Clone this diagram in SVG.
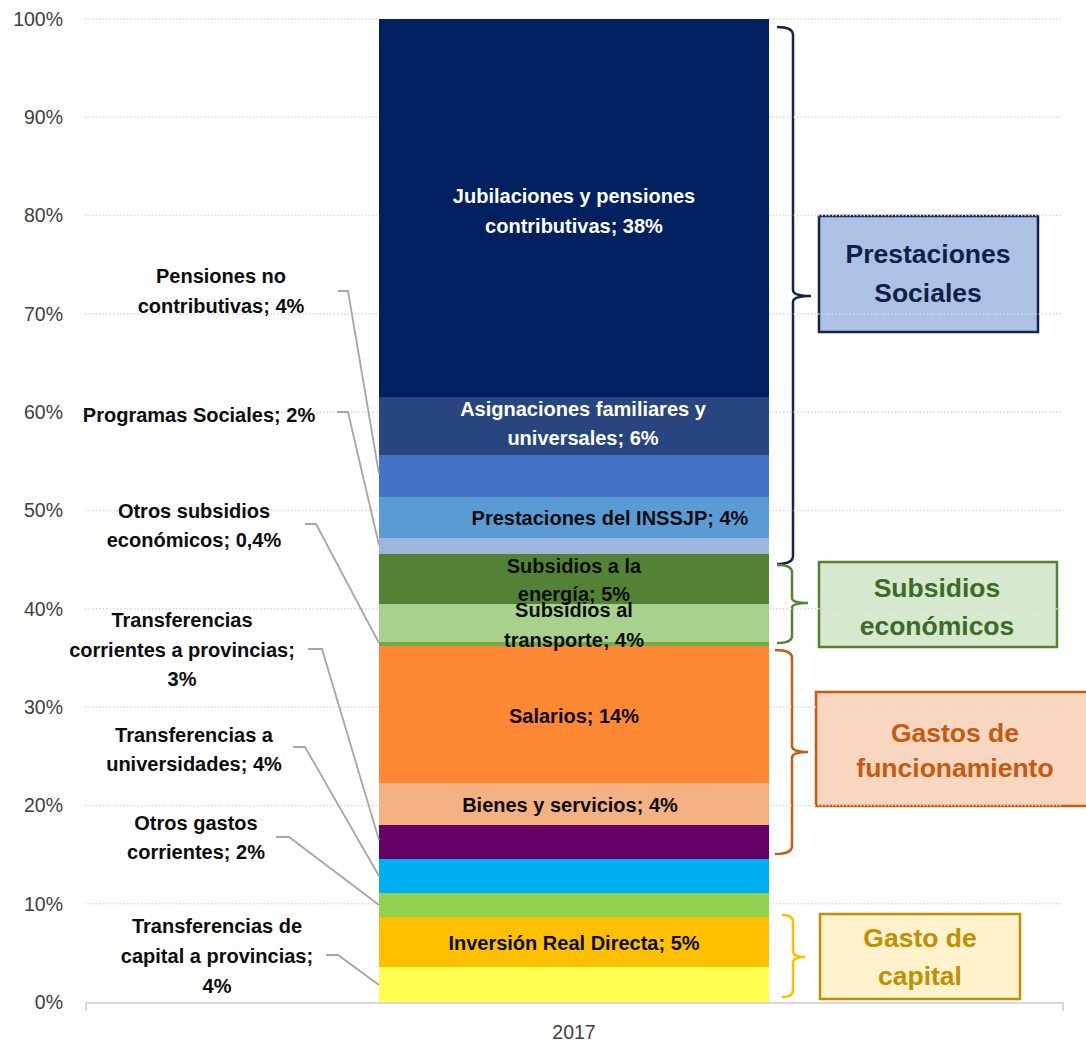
<svg xmlns="http://www.w3.org/2000/svg" width="1086" height="1046" viewBox="0 0 1086 1046">
<style>
.ax{font-family:"Liberation Sans",Arial,sans-serif;font-size:19.5px;fill:#404040}
.lb{font-family:"Liberation Sans",Arial,sans-serif;font-size:20px;font-weight:bold;fill:#0D0D0D;text-anchor:middle}
.wh{fill:#FFFFFF}
.grid{stroke:#D9D9D9;stroke-width:1.5;stroke-dasharray:1.5 2;fill:none}
.lead{stroke:#A6A6A6;stroke-width:1.8;fill:none}
.brace{fill:none;stroke-width:2.5}
.bt{font-family:"Liberation Sans",Arial,sans-serif;font-size:26.5px;font-weight:bold;text-anchor:middle}
</style>
<rect width="1086" height="1046" fill="#FFFFFF"/>
<g id="gridlines-left">
<line class="grid" x1="85" y1="903.7" x2="379" y2="903.7"/>
<line class="grid" x1="85" y1="805.4" x2="379" y2="805.4"/>
<line class="grid" x1="85" y1="707.1" x2="379" y2="707.1"/>
<line class="grid" x1="85" y1="608.8" x2="379" y2="608.8"/>
<line class="grid" x1="85" y1="510.5" x2="379" y2="510.5"/>
<line class="grid" x1="85" y1="412.2" x2="379" y2="412.2"/>
<line class="grid" x1="85" y1="313.9" x2="379" y2="313.9"/>
<line class="grid" x1="85" y1="215.6" x2="379" y2="215.6"/>
<line class="grid" x1="85" y1="117.3" x2="379" y2="117.3"/>
<line class="grid" x1="85" y1="19" x2="379" y2="19"/>
</g>
<g id="y-axis">
<text class="ax" x="63" y="1009" text-anchor="end">0%</text>
<text class="ax" x="63" y="911" text-anchor="end">10%</text>
<text class="ax" x="63" y="812" text-anchor="end">20%</text>
<text class="ax" x="63" y="714" text-anchor="end">30%</text>
<text class="ax" x="63" y="616" text-anchor="end">40%</text>
<text class="ax" x="63" y="517" text-anchor="end">50%</text>
<text class="ax" x="63" y="419" text-anchor="end">60%</text>
<text class="ax" x="63" y="321" text-anchor="end">70%</text>
<text class="ax" x="63" y="222" text-anchor="end">80%</text>
<text class="ax" x="63" y="124" text-anchor="end">90%</text>
<text class="ax" x="63" y="26" text-anchor="end">100%</text>
</g>
<g id="bar">
<g id="seg-jubilaciones"><rect x="379" y="19" width="390" height="378" fill="#002060"/>
<text class="lb wh" x="574" y="203">Jubilaciones y pensiones</text><text class="lb wh" x="574" y="233">contributivas; 38%</text></g>
<g id="seg-asignaciones"><rect x="379" y="397" width="390" height="58" fill="#284580"/>
<text class="lb wh" x="583" y="416">Asignaciones familiares y</text><text class="lb wh" x="583" y="445">universales; 6%</text></g>
<g id="seg-pensiones-nc"><rect x="379" y="455" width="390" height="42" fill="#4472C4"/></g>
<g id="seg-inssjp"><rect x="379" y="497" width="390" height="41" fill="#5B9BD5"/>
<text class="lb" x="610" y="525">Prestaciones del INSSJP; 4%</text></g>
<g id="seg-programas"><rect x="379" y="538" width="390" height="16" fill="#9EB5DF"/></g>
<g id="seg-energia"><rect x="379" y="554" width="390" height="50" fill="#548235"/></g>
<g id="seg-transporte"><rect x="379" y="604" width="390" height="38" fill="#A9D18E"/></g>
<g id="seg-otros-subsidios"><rect x="379" y="642" width="390" height="4" fill="#70AD47"/></g>
<g id="seg-salarios"><rect x="379" y="646" width="390" height="137" fill="#FF8835"/>
<text class="lb" x="574" y="723">Salarios; 14%</text></g>
<g id="seg-bienes"><rect x="379" y="783" width="390" height="42" fill="#F4B183"/>
<text class="lb" x="570" y="812">Bienes y servicios; 4%</text></g>
<g id="seg-transf-corrientes"><rect x="379" y="825" width="390" height="34" fill="#660066"/></g>
<g id="seg-universidades"><rect x="379" y="859" width="390" height="34" fill="#00B0F0"/></g>
<g id="seg-otros-gastos"><rect x="379" y="893" width="390" height="24" fill="#92D050"/></g>
<g id="seg-inversion"><rect x="379" y="917" width="390" height="50" fill="#FFC000"/>
<text class="lb" x="574" y="950">Inversión Real Directa; 5%</text></g>
<g id="seg-transf-capital"><rect x="379" y="967" width="390" height="35" fill="#FFFF50"/></g>
<g id="subsidios-labels">
<text class="lb" x="574" y="573">Subsidios a la</text><text class="lb" x="574" y="601">energía; 5%</text>
<text class="lb" x="574" y="617">Subsidios al</text><text class="lb" x="574" y="647">transporte; 4%</text>
</g>
</g>
<g id="x-axis">
<line x1="85" y1="1003" x2="1064" y2="1003" stroke="#D9D9D9" stroke-width="2"/>
<line x1="86" y1="1003" x2="86" y2="1011" stroke="#D9D9D9" stroke-width="2"/>
<line x1="1063" y1="1003" x2="1063" y2="1011" stroke="#D9D9D9" stroke-width="2"/>
<text class="ax" x="574" y="1039" text-anchor="middle">2017</text>
</g>
<g id="left-labels">
<g id="lbl-pensiones-nc"><text class="lb" x="221" y="283">Pensiones no</text><text class="lb" x="221" y="313">contributivas; 4%</text></g>
<g id="lbl-programas"><text class="lb" x="199" y="422">Programas Sociales; 2%</text></g>
<g id="lbl-otros-subsidios"><text class="lb" x="194" y="518">Otros subsidios</text><text class="lb" x="194" y="547">económicos; 0,4%</text></g>
<g id="lbl-transf-corrientes"><text class="lb" x="182" y="627">Transferencias</text><text class="lb" x="182" y="657">corrientes a provincias;</text><text class="lb" x="182" y="686">3%</text></g>
<g id="lbl-universidades"><text class="lb" x="194" y="742">Transferencias a</text><text class="lb" x="194" y="771">universidades; 4%</text></g>
<g id="lbl-otros-gastos"><text class="lb" x="196" y="830">Otros gastos</text><text class="lb" x="196" y="859">corrientes; 2%</text></g>
<g id="lbl-transf-capital"><text class="lb" x="217" y="933">Transferencias de</text><text class="lb" x="217" y="963">capital a provincias;</text><text class="lb" x="217" y="993">4%</text></g>
</g>
<g id="connectors">
<polyline class="lead" points="338,291 348,291 379,474"/>
<polyline class="lead" points="337,412 348,412 379,545"/>
<polyline class="lead" points="305,524 316,524 379,643"/>
<polyline class="lead" points="308,649 322,649 379,840"/>
<polyline class="lead" points="293,747 305,747 379,876"/>
<polyline class="lead" points="276,837 289,837 379,905"/>
<polyline class="lead" points="326,955 338,955 379,985"/>
</g>
<g id="braces">
<path class="brace" stroke="#13234A" d="M777,27 Q793,27 793,35 L793,290 Q793,296 811,296 Q793,296 793,302 L793,556 Q793,564 777,564"/>
<path class="brace" stroke="#548235" d="M777,565 Q792,565 792,572 L792,598 Q792,603 808,603 Q792,603 792,608 L792,636 Q792,643 777,643"/>
<path class="brace" stroke="#C55A11" d="M775,650 Q792,650 792,658 L792,746 Q792,752 808,752 Q792,752 792,758 L792,846 Q792,854 775,854"/>
<path class="brace" stroke="#FFC000" d="M782,915 Q793,915 793,922 L793,951 Q793,957 805,957 Q793,957 793,963 L793,990 Q793,997 782,997"/>
</g>
<g id="box-prestaciones"><rect x="819" y="216" width="219" height="116" fill="#ADC1E5" stroke="#13234A" stroke-width="2.5"/></g>
<g id="box-subsidios"><rect x="819" y="562" width="238" height="85" fill="#D6E8CD" stroke="#548235" stroke-width="2.5"/></g>
<g id="box-gastos"><rect x="816" y="692" width="290" height="114" fill="#F8D6C0" stroke="#C55A11" stroke-width="2.5"/></g>
<g id="box-capital"><rect x="820" y="914" width="200" height="85" fill="#FFF2CC" stroke="#BF9000" stroke-width="2.5"/></g>
<g id="gridlines-right">
<line class="grid" x1="769" y1="903.7" x2="1062" y2="903.7"/>
<line class="grid" x1="769" y1="805.4" x2="1062" y2="805.4"/>
<line class="grid" x1="769" y1="707.1" x2="1062" y2="707.1"/>
<line class="grid" x1="769" y1="608.8" x2="1062" y2="608.8"/>
<line class="grid" x1="769" y1="510.5" x2="1062" y2="510.5"/>
<line class="grid" x1="769" y1="412.2" x2="1062" y2="412.2"/>
<line class="grid" x1="769" y1="313.9" x2="1062" y2="313.9"/>
<line class="grid" x1="769" y1="215.6" x2="1062" y2="215.6"/>
<line class="grid" x1="769" y1="117.3" x2="1062" y2="117.3"/>
<line class="grid" x1="769" y1="19" x2="1062" y2="19"/>
</g>
<g id="box-texts">
<text class="bt" x="928" y="263" fill="#0F1F45">Prestaciones</text><text class="bt" x="928" y="302" fill="#0F1F45">Sociales</text>
<text class="bt" x="937" y="597" fill="#3E6B27">Subsidios</text><text class="bt" x="937" y="635" fill="#3E6B27">económicos</text>
<text class="bt" x="955" y="742" fill="#C55A11">Gastos de</text><text class="bt" x="955" y="777" fill="#C55A11">funcionamiento</text>
<text class="bt" x="920" y="947" fill="#BF9000">Gasto de</text><text class="bt" x="920" y="985" fill="#BF9000">capital</text>
</g>
</svg>
